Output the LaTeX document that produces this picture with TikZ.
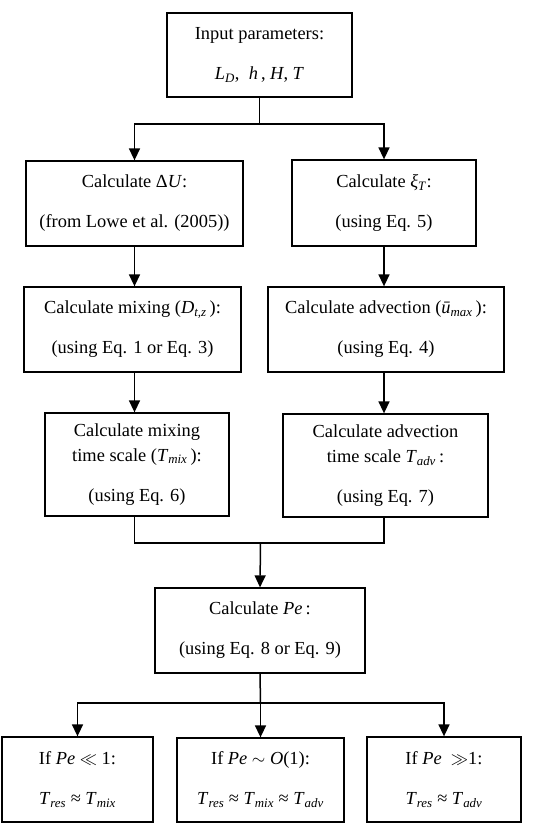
\documentclass[tikz,border=0pt]{standalone}
\usepackage{fontspec}
\setmainfont{Liberation Serif}
\usetikzlibrary{arrows.meta}
\newcommand{\vi}[1]{\textit{#1}}
\newcommand{\vsub}[1]{\textsubscript{\textit{#1}}}
\begin{document}
\begin{tikzpicture}[x=1pt,y=-1pt,
  box/.style={draw, line width=1.3pt, inner sep=0pt, align=center, font=\fontsize{18.4}{25}\selectfont},
  link/.style={line width=1.5pt},
  arr/.style={line width=1.5pt, -{Triangle[width=11pt,length=12pt]}}]
\useasboundingbox (0,0) rectangle (536,831);
\node[box, minimum width=185pt, minimum height=84pt] (top) at (259.5,55)
  {Input parameters:\\[15pt] \vi{L}\vsub{D},\ \ \vi{h}\,, \vi{H}, \vi{T}};
\node[box, minimum width=217pt, minimum height=85pt] (L1) at (134.5,203.5)
  {Calculate Δ\vi{U}:\\[15pt] (from Lowe et al. (2005))};
\node[box, minimum width=184pt, minimum height=86pt] (R1) at (384,203)
  {Calculate \vi{ξ}\vsub{T}:\\[15pt] (using Eq. 5)};
\node[box, minimum width=217pt, minimum height=85pt] (L2) at (132.5,329.5)
  {Calculate mixing (\vi{D}\vsub{t,z}\,):\\[15pt] (using Eq. 1 or Eq. 3)};
\node[box, minimum width=236pt, minimum height=85pt] (R2) at (386,329.5)
  {Calculate advection (\vi{ū}\vsub{max}\,):\\[15pt] (using Eq. 4)};
\node[box, minimum width=184pt, minimum height=103pt] (L3) at (137,464.5)
  {Calculate mixing\\ time scale (\vi{T}\vsub{mix}\,):\\[15pt] (using Eq. 6)};
\node[box, minimum width=205pt, minimum height=103pt] (R3) at (385.5,465.5)
  {Calculate advection\\ time scale \vi{T}\vsub{adv}\,:\\[15pt] (using Eq. 7)};
\node[box, minimum width=210pt, minimum height=85pt] (Pe) at (260,630.5)
  {Calculate \vi{Pe}\,:\\[15pt] (using Eq. 8 or Eq. 9)};
\node[box, minimum width=151pt, minimum height=85pt] (B1) at (77.5,779.5)
  {If \vi{Pe} $\ll$ 1:\\[15pt] \vi{T}\vsub{res} ≈ \vi{T}\vsub{mix}};
\node[box, minimum width=167pt, minimum height=84pt] (B2) at (260.5,780)
  {If \vi{Pe} $\sim$ \vi{O}(1):\\[15pt] \vi{T}\vsub{res} ≈ \vi{T}\vsub{mix} ≈ \vi{T}\vsub{adv}};
\node[box, minimum width=154pt, minimum height=85pt] (B3) at (444,779.5)
  {If \vi{Pe}\ \ $\gg$1:\\[15pt] \vi{T}\vsub{res} ≈ \vi{T}\vsub{adv}};
% split from top
\coordinate (j1) at (259.5,124);
\draw[link] (top.south) -- (j1);
\draw[arr] (j1) -| (L1.north);
\draw[arr] (j1) -| (R1.north);
% columns
\draw[arr] (L1.south) -- (L1.south |- L2.north);
\draw[arr] (R1.south) -- (R1.south |- R2.north);
\draw[arr] (L1.south |- L2.south) -- (L1.south |- L3.north);
\draw[arr] (R1.south |- R2.south) -- (R1.south |- R3.north);
% merge
\coordinate (m) at (260.5,543);
\draw[link] (L1.south |- L3.south) |- (m) -| (R1.south |- R3.south);
\draw[arr] (m) -- (Pe.north);
% split to results
\coordinate (j3) at (260.5,703);
\draw[link] (Pe.south) -- (j3);
\draw[arr] (j3) -| (B1.north);
\draw[arr] (j3) -- (B2.north);
\draw[arr] (j3) -| (B3.north);
\end{tikzpicture}
\end{document}
